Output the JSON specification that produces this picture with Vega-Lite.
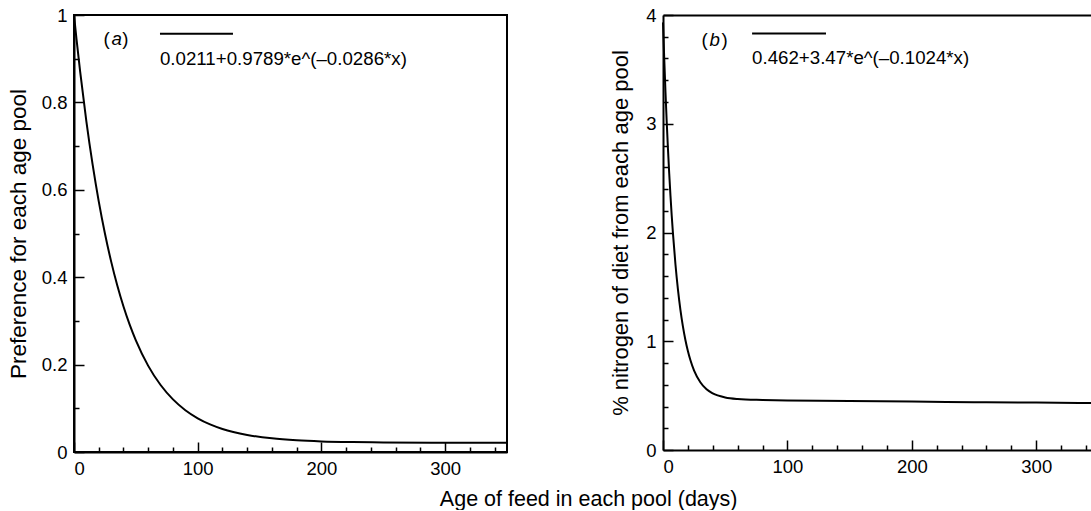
{
  "$schema": "https://vega.github.io/schema/vega-lite/v6.json",
  "background": "white",
  "padding": {"left": 6, "top": 5, "right": 0, "bottom": 0},
  "spacing": 97,
  "config": {
    "font": "Liberation Sans",
    "view": {"stroke": "black", "strokeWidth": 2},
    "axis": {
      "grid": false,
      "domainColor": "black",
      "domainWidth": 2,
      "tickColor": "black",
      "tickWidth": 1.5,
      "labelFont": "Liberation Sans",
      "labelFontSize": 18.5,
      "labelColor": "black",
      "titleFont": "Liberation Sans",
      "titleFontSize": 22,
      "titleFontWeight": "normal",
      "titleColor": "black"
    }
  },
  "title": {
    "text": "Age of feed in each pool (days)",
    "orient": "bottom",
    "anchor": "middle",
    "fontSize": 21.5,
    "fontWeight": "normal",
    "font": "Liberation Sans",
    "color": "black",
    "offset": 10,
    "dx": 38
  },
  "hconcat": [
    {
      "width": 433,
      "height": 437,
      "resolve": {"axis": {"x": "independent", "y": "independent"}},
      "layer": [
        {
          "data": {"values": [
            {"x": 0, "y": 1.0}, {"x": 2, "y": 0.9456}, {"x": 5, "y": 0.8696}, {"x": 10, "y": 0.7566},
            {"x": 15, "y": 0.6586}, {"x": 20, "y": 0.5736}, {"x": 25, "y": 0.5}, {"x": 30, "y": 0.4362},
            {"x": 35, "y": 0.3808}, {"x": 40, "y": 0.3329}, {"x": 45, "y": 0.2914}, {"x": 50, "y": 0.2554},
            {"x": 60, "y": 0.1971}, {"x": 70, "y": 0.1533}, {"x": 80, "y": 0.1204}, {"x": 90, "y": 0.0957},
            {"x": 100, "y": 0.0772}, {"x": 110, "y": 0.0632}, {"x": 120, "y": 0.0527}, {"x": 140, "y": 0.039},
            {"x": 160, "y": 0.0312}, {"x": 180, "y": 0.0268}, {"x": 200, "y": 0.0243}, {"x": 225, "y": 0.0227},
            {"x": 250, "y": 0.0219}, {"x": 300, "y": 0.0213}, {"x": 350, "y": 0.0211}
          ]},
          "mark": {"type": "line", "color": "black", "strokeWidth": 2, "interpolate": "monotone"},
          "encoding": {
            "x": {"field": "x", "type": "quantitative", "scale": {"domain": [0, 350], "nice": false},
                  "axis": {"orient": "bottom", "values": [0, 100, 200, 300], "tickSize": -10, "labelPadding": 17, "title": null}},
            "y": {"field": "y", "type": "quantitative", "scale": {"domain": [0, 1], "nice": false},
                  "axis": {"orient": "left", "values": [0, 0.2, 0.4, 0.6, 0.8, 1], "format": "~g", "tickSize": -10, "labelPadding": 17, "titlePadding": 11, "titleFontSize": 22.5, "title": "Preference for each age pool"}}
          }
        },
        {
          "data": {"values": [{"x": 69.5, "x2": 128.5, "y": 0.957}]},
          "mark": {"type": "rule", "color": "black", "strokeWidth": 2},
          "encoding": {
            "x": {"field": "x", "type": "quantitative",
                  "axis": {"orient": "bottom", "values": [20, 40, 60, 80, 120, 140, 160, 180, 220, 240, 260, 280, 320, 340], "tickSize": -5, "labels": false, "domain": false, "title": null}},
            "x2": {"field": "x2"},
            "y": {"field": "y", "type": "quantitative",
                  "axis": {"orient": "left", "values": [0.1, 0.3, 0.5, 0.7, 0.9], "tickSize": -5, "labels": false, "domain": false, "title": null}}
          }
        },
        {
          "data": {"values": [{"x": 69.5, "y": 0.886, "t": "0.0211+0.9789*e^(–0.0286*x)"}]},
          "mark": {"type": "text", "align": "left", "baseline": "alphabetic", "fontSize": 18.7, "font": "Liberation Sans", "color": "black"},
          "encoding": {
            "x": {"field": "x", "type": "quantitative", "axis": null},
            "y": {"field": "y", "type": "quantitative", "axis": null},
            "text": {"field": "t"}
          }
        },
        {
          "data": {"values": [{"x": 26.3, "y": 0.945, "t": "("}, {"x": 41.6, "y": 0.945, "t": ")"}]},
          "mark": {"type": "text", "align": "center", "baseline": "middle", "fontSize": 18.7, "font": "Liberation Sans", "color": "black"},
          "encoding": {
            "x": {"field": "x", "type": "quantitative", "axis": null},
            "y": {"field": "y", "type": "quantitative", "axis": null},
            "text": {"field": "t"}
          }
        },
        {
          "data": {"values": [{"x": 34.5, "y": 0.945, "t": "a"}]},
          "mark": {"type": "text", "align": "center", "baseline": "middle", "fontSize": 18.7, "fontStyle": "italic", "font": "Liberation Sans", "color": "black"},
          "encoding": {
            "x": {"field": "x", "type": "quantitative", "axis": null},
            "y": {"field": "y", "type": "quantitative", "axis": null},
            "text": {"field": "t"}
          }
        }
      ]
    },
    {
      "width": 428,
      "height": 435,
      "view": {"stroke": null},
      "resolve": {"axis": {"x": "independent", "y": "independent"}},
      "layer": [
        {
          "data": {"values": [
            {"x": 0, "y": 3.932}, {"x": 1, "y": 3.594}, {"x": 2, "y": 3.289}, {"x": 3, "y": 3.014},
            {"x": 4, "y": 2.766}, {"x": 5, "y": 2.542}, {"x": 6, "y": 2.339}, {"x": 7, "y": 2.156},
            {"x": 8, "y": 1.992}, {"x": 10, "y": 1.708}, {"x": 12, "y": 1.477}, {"x": 14, "y": 1.289},
            {"x": 16, "y": 1.136}, {"x": 18, "y": 1.011}, {"x": 20, "y": 0.91}, {"x": 22, "y": 0.827},
            {"x": 25, "y": 0.73}, {"x": 30, "y": 0.623}, {"x": 35, "y": 0.558}, {"x": 40, "y": 0.52},
            {"x": 50, "y": 0.483}, {"x": 60, "y": 0.469}, {"x": 80, "y": 0.46}, {"x": 100, "y": 0.455},
            {"x": 150, "y": 0.45}, {"x": 200, "y": 0.445}, {"x": 250, "y": 0.44}, {"x": 300, "y": 0.436},
            {"x": 344, "y": 0.432}
          ]},
          "mark": {"type": "line", "color": "black", "strokeWidth": 2, "interpolate": "monotone"},
          "encoding": {
            "x": {"field": "x", "type": "quantitative", "scale": {"domain": [0, 344], "nice": false},
                  "axis": {"orient": "bottom", "values": [0, 100, 200, 300], "tickSize": -10, "labelPadding": 17, "title": null}},
            "y": {"field": "y", "type": "quantitative", "scale": {"domain": [0, 4], "nice": false},
                  "axis": {"orient": "left", "values": [0, 1, 2, 3, 4], "tickSize": -10, "labelPadding": 17, "titlePadding": 13, "title": "% nitrogen of diet from each age pool"}}
          }
        },
        {
          "data": {"values": [{"x": 71.6, "x2": 131, "y": 3.83}]},
          "mark": {"type": "rule", "color": "black", "strokeWidth": 2},
          "encoding": {
            "x": {"field": "x", "type": "quantitative",
                  "axis": {"orient": "bottom", "values": [20, 40, 60, 80, 120, 140, 160, 180, 220, 240, 260, 280, 320, 340], "tickSize": -5, "labels": false, "domain": false, "title": null}},
            "x2": {"field": "x2"},
            "y": {"field": "y", "type": "quantitative",
                  "axis": {"orient": "left", "values": [0.2, 0.4, 0.6, 0.8, 1.2, 1.4, 1.6, 1.8, 2.2, 2.4, 2.6, 2.8, 3.2, 3.4, 3.6, 3.8], "tickSize": -5, "labels": false, "domain": false, "title": null}}
          }
        },
        {
          "data": {"values": [{"x": 71.6, "y": 3.55, "t": "0.462+3.47*e^(–0.1024*x)"}]},
          "mark": {"type": "text", "align": "left", "baseline": "alphabetic", "fontSize": 18.7, "font": "Liberation Sans", "color": "black"},
          "encoding": {
            "x": {"field": "x", "type": "quantitative",
                  "axis": {"orient": "top", "ticks": false, "labels": false, "domain": true, "title": null}},
            "y": {"field": "y", "type": "quantitative", "axis": null},
            "text": {"field": "t"}
          }
        },
        {
          "data": {"values": [{"x": 33.4, "y": 3.77, "t": "("}, {"x": 49.5, "y": 3.77, "t": ")"}]},
          "mark": {"type": "text", "align": "center", "baseline": "middle", "fontSize": 18.7, "font": "Liberation Sans", "color": "black"},
          "encoding": {
            "x": {"field": "x", "type": "quantitative", "axis": null},
            "y": {"field": "y", "type": "quantitative", "axis": null},
            "text": {"field": "t"}
          }
        },
        {
          "data": {"values": [{"x": 41.6, "y": 3.77, "t": "b"}]},
          "mark": {"type": "text", "align": "center", "baseline": "middle", "fontSize": 18.7, "fontStyle": "italic", "font": "Liberation Sans", "color": "black"},
          "encoding": {
            "x": {"field": "x", "type": "quantitative", "axis": null},
            "y": {"field": "y", "type": "quantitative", "axis": null},
            "text": {"field": "t"}
          }
        }
      ]
    }
  ]
}
